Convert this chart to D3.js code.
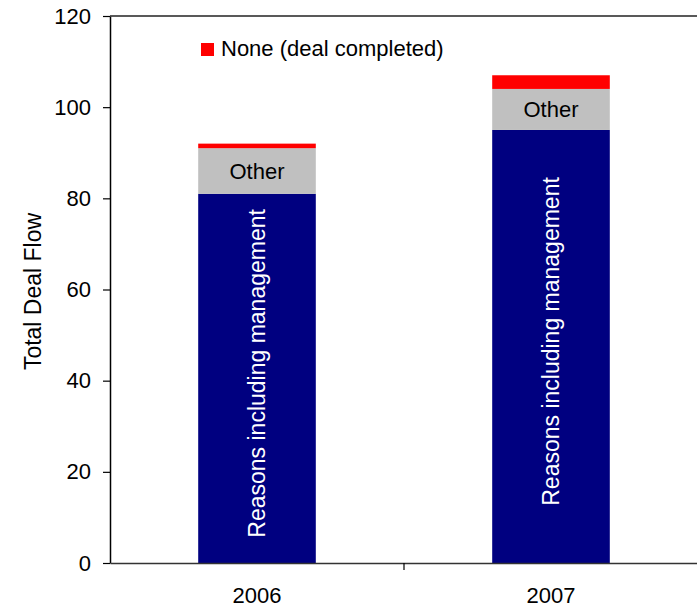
<!DOCTYPE html>
<html>
<head>
<meta charset="utf-8">
<script src="https://cdn.jsdelivr.net/npm/d3@7"></script>
<style>
  body { margin: 0; background: #fff; }
  svg text { font-family: "Liberation Sans", Arial, sans-serif; }
</style>
</head>
<body>
<svg id="chart"></svg>
<script>
(function(){

    var years = ["2006", "2007"];
    var reasons = [81, 95];
    var other = [10, 9];
    var none = [1, 3];
    var yTicks = [0, 20, 40, 60, 80, 100, 120];

    var width = 697, height = 607;
    var margin = {top: 16, right: -1, bottom: 44, left: 110};
    var plotW = width - margin.left - margin.right;
    var plotH = height - margin.top - margin.bottom;

    var svg = d3.select("svg#chart")
        .attr("width", width)
        .attr("height", height);

    var g = svg.append("g")
        .attr("transform", "translate(" + margin.left + "," + margin.top + ")");

    var xScale = d3.scaleBand()
        .domain(years)
        .range([0, plotW])
        .paddingInner(0.6)
        .paddingOuter(0.3);

    var yScale = d3.scaleLinear()
        .domain([0, 120])
        .range([plotH, 0]);

    // stacked data
    var rows = years.map(function(y, i) {
        return {year: y, reasons: reasons[i], other: other[i], none: none[i]};
    });
    var stack = d3.stack().keys(["reasons", "other", "none"]);
    var series = stack(rows);
    var colors = {reasons: "#000080", other: "#C0C0C0", none: "#FF0000"};

    g.selectAll("g.layer")
        .data(series)
        .enter()
        .append("g")
        .attr("class", "layer")
        .attr("fill", function(d) { return colors[d.key]; })
        .selectAll("rect")
        .data(function(d) { return d; })
        .enter()
        .append("rect")
        .attr("x", function(d) { return xScale(d.data.year); })
        .attr("y", function(d) { return yScale(d[1]); })
        .attr("width", xScale.bandwidth())
        .attr("height", function(d) { return yScale(d[0]) - yScale(d[1]); });

    // labels inside the bars
    g.selectAll("text.other")
        .data(series[1])
        .enter()
        .append("text")
        .attr("class", "other")
        .attr("x", function(d) { return xScale(d.data.year) + xScale.bandwidth() / 2; })
        .attr("y", function(d) { return (yScale(d[0]) + yScale(d[1])) / 2; })
        .attr("dy", "0.35em")
        .attr("text-anchor", "middle")
        .style("font-size", "22px")
        .style("fill", "#000")
        .text("Other");

    g.selectAll("text.reasons")
        .data(series[0])
        .enter()
        .append("text")
        .attr("class", "reasons")
        .attr("transform", function(d) {
            var cx = xScale(d.data.year) + xScale.bandwidth() / 2;
            var cy = (yScale(d[0]) + yScale(d[1])) / 2 - 5;
            return "translate(" + cx + "," + cy + ") rotate(-90)";
        })
        .attr("dy", "0.35em")
        .attr("text-anchor", "middle")
        .style("font-size", "23px")
        .style("fill", "#fff")
        .text("Reasons including management");

    // y axis
    var yAxis = g.append("g")
        .call(d3.axisLeft(yScale).tickValues(yTicks).tickSize(7).tickSizeOuter(0).tickPadding(12));
    yAxis.select(".domain").attr("stroke", "#000").attr("stroke-width", 1.5);
    yAxis.selectAll(".tick line").attr("stroke", "#000").attr("stroke-width", 1.2);
    yAxis.selectAll(".tick text")
        .style("font-size", "22px")
        .style("font-family", "Liberation Sans, Arial, sans-serif")
        .attr("fill", "#000");

    // x axis
    var xAxis = g.append("g")
        .attr("transform", "translate(0," + plotH + ")")
        .call(d3.axisBottom(xScale).tickSize(0).tickSizeOuter(0).tickPadding(24));
    xAxis.select(".domain").attr("stroke", "#333").attr("stroke-width", 1.5);
    xAxis.selectAll(".tick text")
        .style("font-size", "22px")
        .style("font-family", "Liberation Sans, Arial, sans-serif")
        .attr("fill", "#000");
    // separator tick between categories
    xAxis.selectAll("line.sep")
        .data(years.slice(1))
        .enter()
        .append("line")
        .attr("class", "sep")
        .attr("x1", function(d) { return xScale(d) - xScale.step() * xScale.paddingInner() / 2; })
        .attr("x2", function(d) { return xScale(d) - xScale.step() * xScale.paddingInner() / 2; })
        .attr("y1", 0)
        .attr("y2", 7)
        .attr("stroke", "#000")
        .attr("stroke-width", 1.2);

    // top frame line
    g.append("line")
        .attr("x1", 0)
        .attr("x2", plotW)
        .attr("y1", yScale(120))
        .attr("y2", yScale(120))
        .attr("stroke", "#222")
        .attr("stroke-width", 1.5);

    // y title
    svg.append("text")
        .attr("transform", "translate(33," + (margin.top + plotH / 2 + 2) + ") rotate(-90)")
        .attr("text-anchor", "middle")
        .attr("dy", "0.35em")
        .style("font-size", "23px")
        .text("Total Deal Flow");

    // legend
    var legend = svg.append("g")
        .attr("transform", "translate(201,43)");
    legend.append("rect")
        .attr("width", 13)
        .attr("height", 13)
        .attr("fill", colors.none);
    legend.append("text")
        .attr("x", 20)
        .attr("y", 13)
        .style("font-size", "22px")
        .text("None (deal completed)");

})();
</script>
</body>
</html>
